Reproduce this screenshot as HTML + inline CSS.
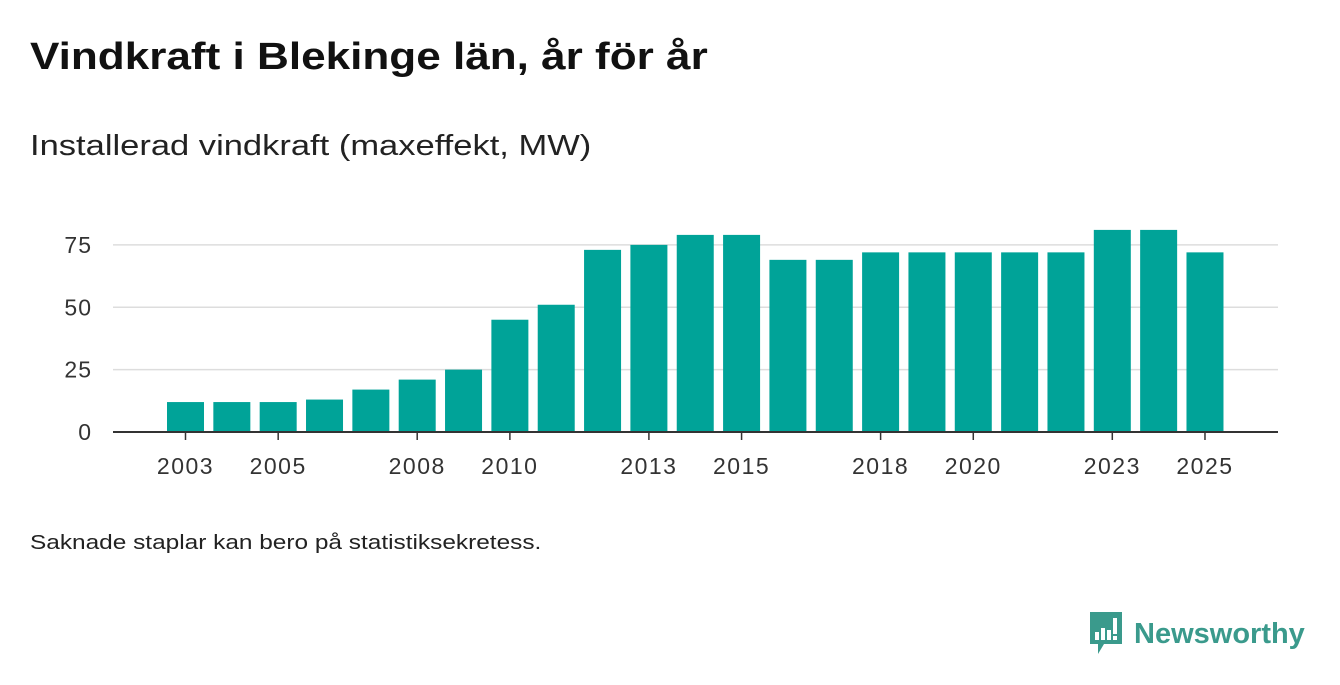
<!DOCTYPE html>
<html><head><meta charset="utf-8">
<style>
body{margin:0;width:1340px;height:685px;background:#fff;font-family:"Liberation Sans",sans-serif;color:#111;overflow:hidden;position:relative}
.t{position:absolute;left:30px;top:36px;font-size:38px;font-weight:bold;margin:0;transform:scaleX(1.16);transform-origin:left;white-space:nowrap}
.s{position:absolute;left:30px;top:130px;font-size:29px;color:#222;transform:scaleX(1.19);transform-origin:left;white-space:nowrap}
.f{position:absolute;left:30px;top:532px;font-size:20px;color:#222;transform:scaleX(1.22);transform-origin:left;white-space:nowrap}
.logo{position:absolute;left:1088px;top:612px;display:flex;align-items:center}
.logo span{font-size:29px;font-weight:bold;color:#3a9a8c;margin-left:10px}
</style></head><body>
<h1 class="t">Vindkraft i Blekinge län, år för år</h1>
<div class="s">Installerad vindkraft (maxeffekt, MW)</div>
<svg id="c" width="1340" height="685" style="position:absolute;left:0;top:0"></svg>
<div class="f">Saknade staplar kan bero på statistiksekretess.</div>
<div class="logo">
<svg width="36" height="44" viewBox="0 0 36 44"><path d="M2 0h32v32H16l-6 10v-10H2z" fill="#3a9a8c"/><rect x="7" y="20" width="4" height="8" fill="#fff"/><rect x="13" y="16" width="4" height="12" fill="#fff"/><rect x="19" y="18" width="4" height="10" fill="#fff"/><rect x="25" y="6" width="4" height="16" fill="#fff"/><rect x="25" y="24" width="4" height="4" fill="#fff"/></svg>
<span>Newsworthy</span></div>
<script>
const years=[2003,2004,2005,2006,2007,2008,2009,2010,2011,2012,2013,2014,2015,2016,2017,2018,2019,2020,2021,2022,2023,2024,2025];
const values=[12,12,12,13,17,21,25,45,51,73,75,79,79,69,69,72,72,72,72,72,81,81,72];
const yTicks=[0,25,50,75];
const xLabels=[2003,2005,2008,2010,2013,2015,2018,2020,2023,2025];
const NS="http://www.w3.org/2000/svg",svg=document.getElementById('c');
const y=v=>432-v*2.495;
const x=yr=>185.5+(yr-2003)*46.34;
function mk(t,a){const e=document.createElementNS(NS,t);for(const k in a)e.setAttribute(k,a[k]);svg.appendChild(e);return e;}
yTicks.forEach(v=>{
 if(v>0){const g=mk('line',{x1:113,x2:1278,y1:y(v),y2:y(v),stroke:'#ddd','stroke-width':1.5});
 
 }
 const t=mk('text',{x:92,y:y(v)+8,'text-anchor':'end','font-size':23,'letter-spacing':1,fill:'#333','font-family':'Liberation Sans'});t.textContent=v;
 
 
});
years.forEach((yr,i)=>{
 const r=mk('rect',{x:x(yr)-18.5,y:y(values[i]),width:37,height:432-y(values[i]),fill:'#00a398'});
 
 
});
const ax=mk('line',{x1:113,x2:1278,y1:432,y2:432,stroke:'#333','stroke-width':2});


xLabels.forEach(yr=>{
 const tk=mk('line',{x1:x(yr),x2:x(yr),y1:432,y2:440,stroke:'#333','stroke-width':1.5});
 
 
 const t=mk('text',{x:x(yr),y:474,'text-anchor':'middle','font-size':23,'letter-spacing':1.5,fill:'#333','font-family':'Liberation Sans'});t.textContent=yr;
 
 
});
</script>
</body></html>
